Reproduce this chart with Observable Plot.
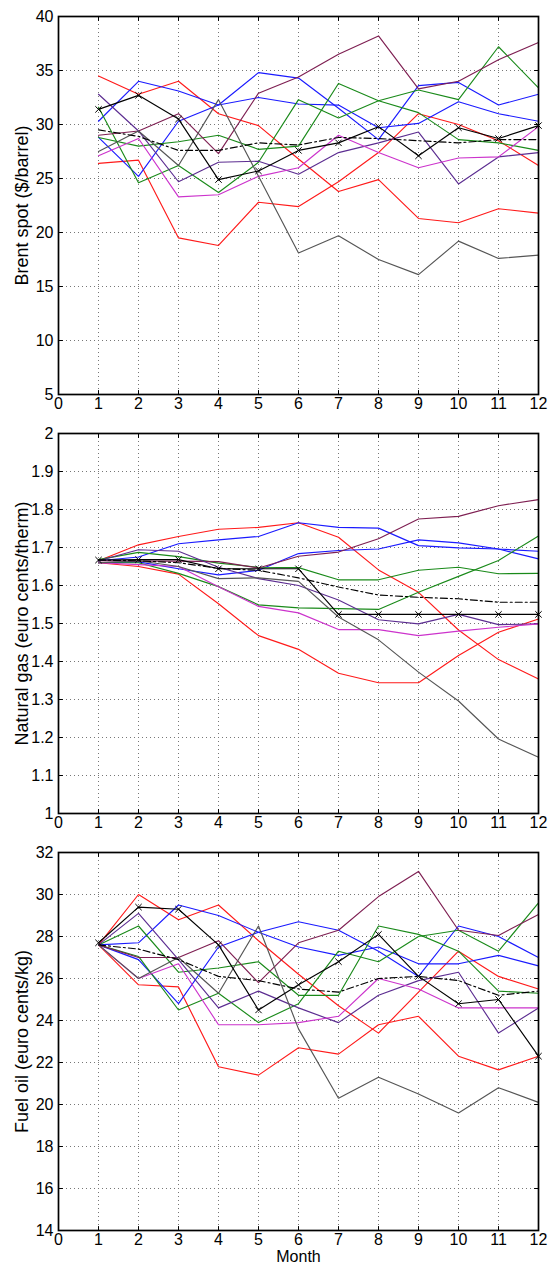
<!DOCTYPE html>
<html><head><meta charset="utf-8">
<script src="https://cdn.jsdelivr.net/npm/d3@7"></script>
<script src="https://cdn.jsdelivr.net/npm/@observablehq/plot@0.6"></script>
<style>
body{margin:0;background:#fff;}
#chart{width:560px;}
#chart svg{display:block;background:#fff;}
</style></head><body><div id="chart"></div>
<script>
const months = [1,2,3,4,5,6,7,8,9,10,11,12];
const monthTicks = [0,1,2,3,4,5,6,7,8,9,10,11,12];
const seriesNames = ["red1","red2","blue1","blue2","green1","green2","maroon","indigo","magenta","gray","black","mean"];
const seriesColors = ["#ff1a1a","#ff1a1a","#1a1aff","#1a1aff","#1a8a1a","#1a8a1a","#7e1f52","#5c2d91","#cc33cc","#555555","#000000","#000000"];

const brentTicks = [5,10,15,20,25,30,35,40];
const gasTicks = [1,1.1,1.2,1.3,1.4,1.5,1.6,1.7,1.8,1.9,2];
const fuelTicks = [14,16,18,20,22,24,26,28,30,32];

const brentValues = [
  [34.5,32.8,34.0,31.0,29.9,26.8,23.8,24.9,21.3,20.9,22.2,21.8],
  [26.4,26.7,19.5,18.8,22.8,22.4,24.7,27.4,31.0,30.0,28.5,26.2],
  [30.3,34.0,33.1,31.8,34.8,34.3,31.5,28.6,33.6,33.9,31.8,32.8],
  [28.8,25.2,30.3,31.8,32.5,31.9,31.8,29.7,30.1,32.1,31.0,30.3],
  [31.6,24.6,26.2,23.7,26.5,32.3,30.6,32.2,31.1,28.6,28.3,27.6],
  [28.8,28.0,28.4,29.0,27.7,28.0,33.8,32.2,33.2,32.3,37.2,33.4],
  [29.0,29.4,31.0,27.3,32.9,34.4,36.5,38.2,33.3,34.0,36.0,37.6],
  [32.8,29.4,24.7,26.5,26.6,25.4,27.4,28.3,29.3,24.5,27.0,27.4],
  [27.1,28.7,23.3,23.5,25.2,26.0,29.0,27.4,26.0,26.9,27.0,29.8],
  [27.5,29.4,26.2,32.3,25.2,18.1,19.7,17.5,16.1,19.2,17.6,17.9],
  [31.4,32.7,30.5,24.9,25.7,27.6,28.3,29.8,27.1,29.7,28.7,29.9],
  [29.5,28.9,27.6,27.6,28.3,28.1,28.8,28.7,28.5,28.3,28.6,28.6]
];
const gasValues = [
  [1.665,1.707,1.729,1.748,1.753,1.765,1.727,1.641,1.582,1.483,1.405,1.354],
  [1.660,1.650,1.630,1.552,1.468,1.432,1.369,1.344,1.344,1.416,1.477,1.512],
  [1.665,1.675,1.710,1.720,1.729,1.765,1.753,1.751,1.705,1.699,1.696,1.670],
  [1.660,1.662,1.644,1.628,1.640,1.684,1.692,1.696,1.720,1.712,1.696,1.690],
  [1.668,1.687,1.676,1.659,1.648,1.647,1.615,1.615,1.640,1.648,1.631,1.632],
  [1.660,1.660,1.632,1.597,1.549,1.541,1.539,1.537,1.582,1.624,1.666,1.730],
  [1.665,1.664,1.664,1.663,1.646,1.677,1.688,1.723,1.775,1.782,1.810,1.826],
  [1.665,1.694,1.690,1.648,1.618,1.600,1.562,1.510,1.499,1.524,1.497,1.499],
  [1.660,1.655,1.650,1.597,1.545,1.528,1.484,1.484,1.468,1.480,1.490,1.499],
  [1.660,1.665,1.650,1.618,1.620,1.611,1.517,1.457,1.372,1.296,1.196,1.148],
  [1.667,1.668,1.668,1.644,1.644,1.644,1.524,1.524,1.524,1.524,1.524,1.524],
  [1.667,1.665,1.660,1.645,1.640,1.620,1.596,1.575,1.569,1.565,1.556,1.556]
];
const fuelValues = [
  [27.6,30.0,28.8,29.5,27.8,26.2,24.7,23.4,25.35,27.3,26.1,25.5],
  [27.6,25.7,25.6,21.8,21.4,22.7,22.4,23.8,24.2,22.3,21.65,22.3],
  [27.6,27.7,29.5,29.0,28.2,27.5,27.1,27.5,26.7,26.7,27.1,26.6],
  [27.6,26.9,24.8,27.5,28.2,28.7,28.3,27.3,26.1,28.5,28.0,27.0],
  [27.6,28.5,26.3,26.5,26.8,25.2,25.2,28.5,28.1,27.3,25.4,25.3],
  [27.6,27.05,24.5,25.3,23.9,24.8,27.3,26.8,28.0,28.3,27.3,29.6],
  [27.6,27.0,27.0,27.8,25.8,27.7,28.3,29.9,31.1,28.3,28.05,29.05],
  [27.6,29.1,26.9,24.6,25.4,24.6,23.9,25.2,25.9,26.3,23.4,24.6],
  [27.6,26.0,26.7,23.8,23.8,23.9,24.2,26.0,25.5,24.6,24.6,24.6],
  [27.6,26.0,27.0,25.3,28.5,23.6,20.3,21.3,20.5,19.6,20.8,20.1],
  [27.7,29.4,29.3,27.6,24.5,25.7,26.8,28.1,26.1,24.8,25.0,22.3],
  [27.6,27.4,26.9,26.1,25.9,25.5,25.35,26.0,26.1,25.9,25.2,25.4]
];

const FONT = "'Liberation Sans', Arial, Helvetica, sans-serif";

// short tick-mark symbols (length ~ 2r px)
const hTick = {draw(ctx, size) { const r = Math.sqrt(size / Math.PI); ctx.moveTo(-r, 0); ctx.lineTo(r, 0); }};
const vTick = {draw(ctx, size) { const r = Math.sqrt(size / Math.PI); ctx.moveTo(0, -r); ctx.lineTo(0, r); }};

function panel({values, ticks, label, height, marginTop, marginBottom, xLabel}) {
  const rows = [];
  seriesNames.forEach((s, i) => values[i].forEach((v, j) => rows.push({series: s, month: months[j], value: v})));
  const solid = rows.filter(d => d.series !== "mean" && d.series !== "black");
  const mean = rows.filter(d => d.series === "mean");
  const blk = rows.filter(d => d.series === "black");
  const y0 = ticks[0], y1 = ticks[ticks.length - 1];
  const innerY = ticks.slice(1, -1);
  const innerX = monthTicks.slice(1, -1);
  return Plot.plot({
    width: 560,
    height,
    marginLeft: 58,
    marginRight: 22,
    marginTop,
    marginBottom,
    style: {fontFamily: FONT, fontSize: "16px", color: "#000", background: "#fff"},
    x: {domain: [0, 12], ticks: monthTicks},
    y: {domain: [y0, y1], ticks},
    color: {domain: seriesNames, range: seriesColors},
    marks: [
      Plot.gridX(innerX, {stroke: "#777", strokeOpacity: 1, strokeDasharray: "1,3"}),
      Plot.gridY(innerY, {stroke: "#777", strokeOpacity: 1, strokeDasharray: "1,3"}),
      // inward tick marks on all four sides
      Plot.dot(innerY, {x: () => 0, y: d => d, symbol: hTick, r: 2.2, dx: 2.2, stroke: "#000", strokeWidth: 1}),
      Plot.dot(innerY, {x: () => 12, y: d => d, symbol: hTick, r: 2.2, dx: -2.2, stroke: "#000", strokeWidth: 1}),
      Plot.dot(innerX, {x: d => d, y: () => y0, symbol: vTick, r: 2.2, dy: -2.2, stroke: "#000", strokeWidth: 1}),
      Plot.dot(innerX, {x: d => d, y: () => y1, symbol: vTick, r: 2.2, dy: 2.2, stroke: "#000", strokeWidth: 1}),
      Plot.line(solid, {x: "month", y: "value", z: "series", stroke: "series", strokeWidth: 1.15}),
      Plot.line(mean, {x: "month", y: "value", stroke: "#000", strokeWidth: 1.15, strokeDasharray: "7,3,2,3"}),
      Plot.line(blk, {x: "month", y: "value", stroke: "#000", strokeWidth: 1.15}),
      Plot.dot(blk, {x: "month", y: "value", symbol: "times", r: 3, stroke: "#000", strokeWidth: 1}),
      Plot.frame({stroke: "#000", strokeWidth: 1.7}),
      Plot.axisX(monthTicks, {tickSize: 0, tickPadding: 3, fontSize: 16, label: xLabel, labelAnchor: "center", labelOffset: 31, labelArrow: "none"}),
      Plot.axisY(ticks, {tickSize: 0, tickPadding: 5, fontSize: 16, tickFormat: d3.format("~g"), label: null}),
      Plot.text([label], {frameAnchor: "left", text: d => d, rotate: -90, dx: -36.5, textAnchor: "middle", lineAnchor: "middle", fontSize: 18, fill: "#000"})
    ]
  });
}

const root = document.getElementById("chart");
root.append(panel({values: brentValues, ticks: brentTicks, label: "Brent spot ($/barrel)", height: 419, marginTop: 16, marginBottom: 25, xLabel: null}));
root.append(panel({values: gasValues, ticks: gasTicks, label: "Natural gas (euro cents/therm)", height: 419, marginTop: 14, marginBottom: 25, xLabel: null}));
root.append(panel({values: fuelValues, ticks: fuelTicks, label: "Fuel oil (euro cents/kg)", height: 425, marginTop: 14, marginBottom: 33, xLabel: "Month"}));
</script></body></html>
